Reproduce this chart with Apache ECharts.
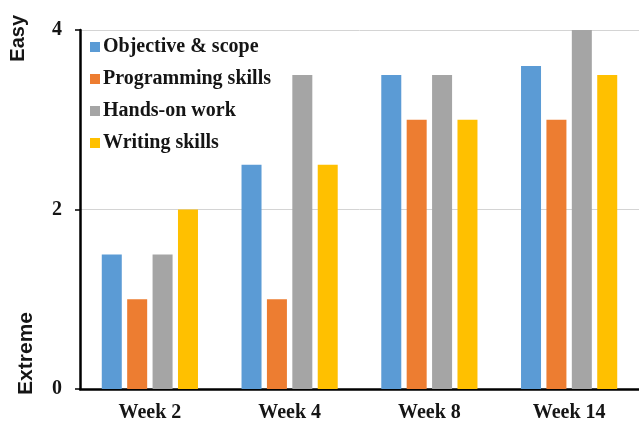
<!DOCTYPE html>
<html>
<head>
<meta charset="utf-8">
<style>
  html, body { margin: 0; padding: 0; background: #fff; }
  #chart { width: 639px; height: 423px; }
</style>
<script src="https://cdn.jsdelivr.net/npm/echarts@6/dist/echarts.min.js"></script>
</head>
<body>
<div id="chart"></div>
<script>
// Survey scores per week (0 = extreme, 4 = easy)
const weeks = ['Week 2', 'Week 4', 'Week 8', 'Week 14'];
const objectiveScope = [1.5, 2.5, 3.5, 3.6];
const programmingSkills = [1.0, 1.0, 3.0, 3.0];
const handsOnWork = [1.5, 3.5, 3.5, 4.0];
const writingSkills = [2.0, 2.5, 3.0, 3.5];
const seriesNames = ['Objective & scope', 'Programming skills', 'Hands-on work', 'Writing skills'];
const yTicks = [0, 2, 4];

const colors = ['#5b9bd5', '#ed7d31', '#a5a5a5', '#ffc000'];
const serif = '"Liberation Serif", "Times New Roman", serif';
const sans = '"Liberation Sans", Arial, sans-serif';

const chart = echarts.init(document.getElementById('chart'));
const values = [objectiveScope, programmingSkills, handsOnWork, writingSkills];

chart.setOption({
  animation: false,
  color: colors,
  grid: { left: 80, right: -4, top: 30, bottom: 34 },
  legend: {
    orient: 'vertical',
    left: 85,
    top: 32,
    padding: 5,
    itemWidth: 10,
    itemHeight: 10,
    itemGap: 12,
    icon: 'rect',
    textStyle: { fontFamily: serif, fontWeight: 'bold', fontSize: 20, color: '#151515', padding: [0, 0, 0, -2] },
    data: seriesNames
  },
  xAxis: {
    type: 'category',
    data: weeks,
    axisLine: { lineStyle: { color: '#000', width: 2.5 } },
    axisTick: { show: false },
    axisLabel: { fontFamily: serif, fontWeight: 'bold', fontSize: 20, color: '#151515', margin: 14 }
  },
  yAxis: {
    type: 'value',
    min: 0,
    max: 4,
    interval: 2,
    axisLine: { show: true, lineStyle: { color: '#000', width: 2.5 } },
    axisTick: { show: true, length: 5, lineStyle: { color: '#000', width: 1.5 } },
    axisLabel: {
      fontFamily: serif, fontWeight: 'bold', fontSize: 20, color: '#151515', margin: 18,
      formatter: v => (yTicks.includes(v) ? String(v) : '')
    },
    splitLine: { lineStyle: { color: '#d4d4d4', width: 1 } }
  },
  graphic: [
    {
      type: 'text', left: 8, top: 15, rotation: Math.PI / 2,
      style: { text: 'Easy', font: 'bold 20px ' + sans, fill: '#151515' }
    },
    {
      type: 'text', left: 16, top: 312, rotation: Math.PI / 2,
      style: { text: 'Extreme', font: 'bold 21px ' + sans, fill: '#151515' }
    }
  ],
  series: seriesNames.map((name, i) => ({
    name,
    type: 'bar',
    data: values[i],
    barWidth: 20,
    barGap: '27%',
    barCategoryGap: '30%'
  }))
});
</script>
</body>
</html>
